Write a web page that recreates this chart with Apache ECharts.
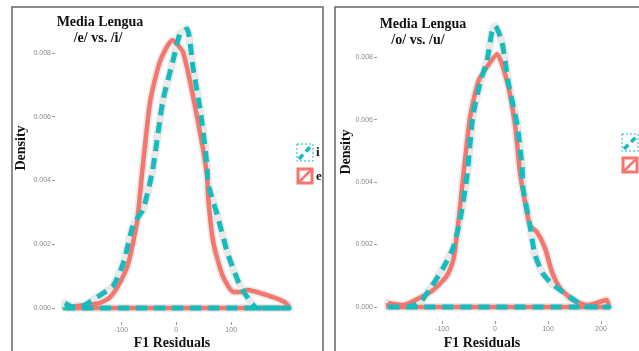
<!DOCTYPE html>
<html><head><meta charset="utf-8">
<script src="https://cdn.jsdelivr.net/npm/echarts@6/dist/echarts.min.js"></script>
<style>html,body{margin:0;padding:0;background:#fff}#c{width:639px;height:351px}</style>
</head><body><div id="c"></div>
<script>
// ---- data (F1 residual, density) ----
const leftE = [[-198,0.00003],[-138,0.00016],[-120,0.00034],[-102,0.0008],[-87,0.0014],[-71,0.0027],[-62,0.0042],[-47,0.0065],[-29,0.00775],[-7,0.0084],[13,0.008],[38,0.006],[56,0.0042],[58,0.0035],[67,0.0021],[84,0.00103],[104,0.0005],[118,0.0005],[129,0.00056],[165,0.0004],[195,0.0002],[205,0.00003]];
const leftI = [[-202,0.00015],[-195,0.00008],[-188,0.00003],[-175,0.00003],[-156,0.0002],[-132,0.00047],[-114,0.0007],[-96,0.0014],[-78,0.0026],[-60,0.0031],[-43,0.0043],[-24,0.0065],[-5,0.0078],[7,0.0086],[20,0.00875],[31,0.0075],[44,0.0062],[56,0.0045],[58,0.0039],[75,0.0029],[93,0.00175],[116,0.0007],[135,0.0002],[147,0.0],[205,0.0]];
const rightO = [[-202,0.00013],[-173,0.00006],[-141,0.0003],[-117,0.00054],[-91,0.001],[-79,0.0015],[-70,0.0026],[-60,0.0042],[-47,0.0061],[-32,0.0072],[-15,0.0077],[4,0.0081],[23,0.0072],[38,0.0058],[47,0.0043],[53,0.0037],[66,0.0026],[79,0.0024],[94,0.0019],[108,0.0011],[123,0.0006],[147,0.00022],[174,0.00006],[192,0.00013],[211,0.00022],[215,0.0]];
const rightU = [[-202,0.0],[-166,0.0],[-141,0.00016],[-122,0.0006],[-98,0.00125],[-79,0.0019],[-66,0.0028],[-53,0.0042],[-42,0.0061],[-28,0.0072],[-15,0.0079],[-6,0.0088],[0,0.009],[13,0.0085],[25,0.0072],[42,0.0058],[51,0.0045],[53,0.0038],[66,0.0026],[75,0.0017],[89,0.0011],[104,0.0008],[123,0.00054],[155,0.00016],[174,0.0],[215,0.0]];
const xTicksLeft = [-100, 0, 100];
const xTicksRight = [-100, 0, 100, 200];
const yTicks = [0, 0.002, 0.004, 0.006, 0.008];
const legendLeft = ['i', 'e'];
const titlesLeft = ['Media Lengua', '/e/ vs. /i/'];
const titlesRight = ['Media Lengua', '/o/ vs. /u/'];

const RED = '#F4766C', TEAL = '#16BBBD';
function closed(d) {
  // density outline closes along the baseline
  return d.concat([[d[d.length-1][0], 0], [d[0][0], 0], d[0]]);
}
const SMOOTH = 0.2;
function halo(data, idx) {
  return {type:'line', xAxisIndex:idx, yAxisIndex:idx, data:closed(data), symbol:'none', silent:true, z:1, smooth:SMOOTH,
     lineStyle:{color:'#e9e9e9', width:8, join:'round', cap:'round'}};
}
function line(data, idx, color, dashed, z) {
  return {type:'line', xAxisIndex:idx, yAxisIndex:idx, data:closed(data), symbol:'none', silent:true, z:z, smooth:SMOOTH,
     lineStyle:{color:color, width:dashed?5:4.5, type:dashed?[11,7]:'solid', join:'round', cap:'butt'}};
}
const axisLbl = {color:'#8a8a8a', fontSize:7, fontFamily:'Liberation Sans'};
function xAx(idx, min, max, ticks) {
  return {type:'value', gridIndex:idx, min:min, max:max, splitLine:{show:false}, axisLine:{show:false, onZero:false},
    axisTick:{show:true, length:3, lineStyle:{color:'#999'}, customValues:ticks},
    axisLabel:Object.assign({margin:5, customValues:ticks, formatter:v=>String(v)}, axisLbl)};
}
function yAx(idx, min, max) {
  return {type:'value', gridIndex:idx, min:min, max:max, splitLine:{show:false}, axisLine:{show:false, onZero:false},
    axisTick:{show:true, length:3, lineStyle:{color:'#999'}, customValues:yTicks},
    axisLabel:Object.assign({margin:4, customValues:yTicks, formatter:v=>v.toFixed(3)}, axisLbl)};
}
const serif = 'Liberation Serif';
function txt(x, y, s, size, rot) {
  return {type:'text', x:x, y:y, rotation:rot||0, style:{text:s, fill:'#111', font:'bold '+size+'px "'+serif+'"', align:'center', verticalAlign:'middle'}};
}
const chart = echarts.init(document.getElementById('c'), null, {renderer:'canvas'});
chart.setOption({
  animation:false,
  backgroundColor:'#fff',
  grid:[{left:55, top:15, width:245, height:307}, {left:377, top:12, width:243, height:309}],
  xAxis:[xAx(0,-220,225,xTicksLeft), xAx(1,-223,236,xTicksRight)],
  yAxis:[yAx(0,-0.00044,0.00919), yAx(1,-0.00045,0.00945)],
  series:[halo(leftE,0), halo(leftI,0), halo(rightO,1), halo(rightU,1),
          line(leftE,0,RED,false,2), line(leftI,0,TEAL,true,3),
          line(rightO,1,RED,false,2), line(rightU,1,TEAL,true,3)],
  graphic:[
    {type:'rect', shape:{x:12, y:7, width:311, height:360}, style:{fill:'none', stroke:'#666', lineWidth:1.5}},
    {type:'rect', shape:{x:335, y:7, width:330, height:360}, style:{fill:'none', stroke:'#666', lineWidth:1.5}},
    txt(100, 22, titlesLeft[0], 14), txt(98, 38, titlesLeft[1], 14),
    txt(423, 24, titlesRight[0], 14), txt(418, 40, titlesRight[1], 14),
    txt(21, 148, 'Density', 14, Math.PI/2), txt(346, 152, 'Density', 14, Math.PI/2),
    txt(172, 343, 'F1 Residuals', 14), txt(482, 343, 'F1 Residuals', 14),
    // left legend
    {type:'rect', shape:{x:297, y:144, width:16, height:17}, style:{fill:'#fff', stroke:TEAL, lineWidth:1, lineDash:[2,2]}},
    {type:'line', shape:{x1:299, y1:159, x2:311, y2:146}, style:{stroke:TEAL, lineWidth:3.5, lineDash:[6,4]}},
    {type:'rect', shape:{x:298, y:169, width:14, height:14}, style:{fill:'#fff', stroke:RED, lineWidth:3}},
    {type:'line', shape:{x1:299, y1:182, x2:311, y2:170}, style:{stroke:RED, lineWidth:2.5}},
    {type:'text', x:316, y:153, style:{text:legendLeft[0], fill:'#111', font:'bold 13px "'+serif+'"', verticalAlign:'middle'}},
    {type:'text', x:316, y:177, style:{text:legendLeft[1], fill:'#111', font:'bold 13px "'+serif+'"', verticalAlign:'middle'}},
    // right legend (labels cut off by the image edge)
    {type:'rect', shape:{x:622, y:134, width:16, height:17}, style:{fill:'#fff', stroke:TEAL, lineWidth:1, lineDash:[2,2]}},
    {type:'line', shape:{x1:624, y1:149, x2:637, y2:136}, style:{stroke:TEAL, lineWidth:3.5, lineDash:[6,4]}},
    {type:'rect', shape:{x:623, y:158, width:14, height:14}, style:{fill:'#fff', stroke:RED, lineWidth:3}},
    {type:'line', shape:{x1:624, y1:171, x2:636, y2:159}, style:{stroke:RED, lineWidth:2.5}}
  ]
});
</script></body></html>
